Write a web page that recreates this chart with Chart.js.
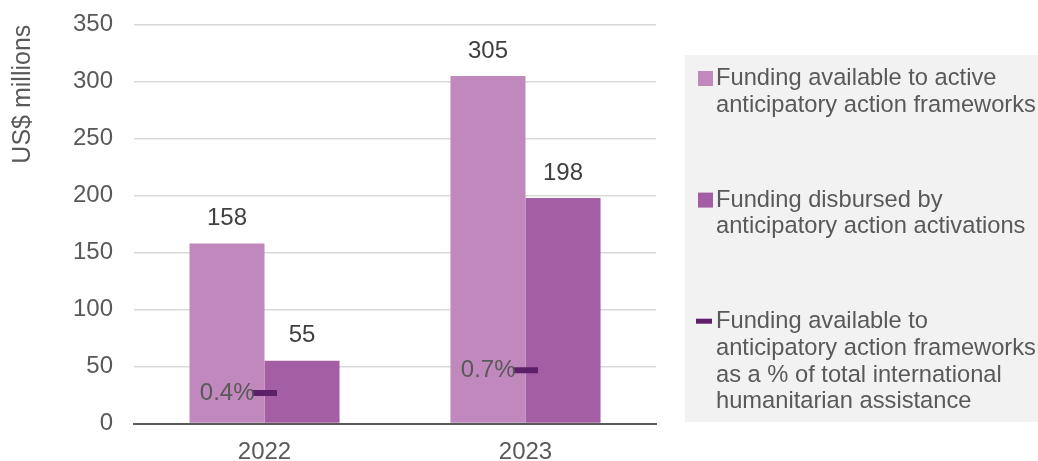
<!DOCTYPE html>
<html>
<head>
<meta charset="utf-8">
<script src="https://cdn.jsdelivr.net/npm/chart.js@4"></script>
<style>
  html, body { margin: 0; padding: 0; background: #ffffff; }
  #wrap { position: relative; width: 1038px; height: 461px; }
</style>
</head>
<body>
<div id="wrap"><canvas id="chart"></canvas></div>
<script>
// Categories and series
const years = ['2022', '2023'];
const fundingAvailable = [158, 305];   // US$ millions
const fundingDisbursed = [55, 198];    // US$ millions
const sharePercent = [0.4, 0.7];       // % of total international humanitarian assistance

// Legend text, one entry per series, split into lines
const legendLines = [
  ['Funding available to active', 'anticipatory action frameworks'],
  ['Funding disbursed by', 'anticipatory action activations'],
  ['Funding available to', 'anticipatory action frameworks', 'as a % of total international', 'humanitarian assistance']
];

const FONT = '"Liberation Sans", Arial, sans-serif';
const GREY = '#595959';
const colAvailable = '#c088bc';
const colDisbursed = '#a45ea3';
const colShare = '#5c2068';

// Value labels above bars and beside the share markers
const labelPlugin = {
  id: 'valueLabels',
  afterDatasetsDraw(chart) {
    const ctx = chart.ctx;
    ctx.save();
    ctx.font = '24px ' + FONT;
    chart.data.datasets.forEach((ds, di) => {
      const meta = chart.getDatasetMeta(di);
      meta.data.forEach((el, i) => {
        const v = ds.data[i];
        if (ds.type === 'line') {
          ctx.fillStyle = GREY;
          ctx.textAlign = 'right';
          ctx.textBaseline = 'middle';
          ctx.fillText(v.toFixed(1) + '%', el.x - 10, el.y);
        } else {
          ctx.fillStyle = '#404040';
          ctx.textAlign = 'center';
          ctx.textBaseline = 'middle';
          ctx.fillText(String(v), el.x, el.y - 25);
        }
      });
    });
    ctx.restore();
  }
};

// Legend panel on the right
const legendPlugin = {
  id: 'sideLegend',
  afterDraw(chart) {
    const ctx = chart.ctx;
    ctx.save();
    ctx.fillStyle = '#f2f2f2';
    ctx.fillRect(685, 55, 353, 367);
    ctx.font = '23.7px ' + FONT;
    ctx.textAlign = 'left';
    ctx.textBaseline = 'alphabetic';
    const lineH = 26.7;
    chart.data.datasets.forEach((ds, di) => {
      const base = 85 + di * 121.6;
      const lines = legendLines[di];
      if (ds.type === 'line') {
        ctx.strokeStyle = ds.borderColor;
        ctx.lineWidth = 5;
        ctx.beginPath();
        ctx.moveTo(696, base - 7);
        ctx.lineTo(712, base - 7);
        ctx.stroke();
      } else {
        ctx.fillStyle = ds.backgroundColor;
        ctx.fillRect(698, base - 14, 15, 15);
      }
      ctx.fillStyle = GREY;
      lines.forEach((t, li) => ctx.fillText(t, 716, base + li * lineH));
    });
    ctx.restore();
  }
};

new Chart(document.getElementById('chart'), {
  type: 'bar',
  data: {
    labels: years,
    datasets: [
      {
        label: legendLines[0].join(' '),
        data: fundingAvailable,
        backgroundColor: colAvailable,
        categoryPercentage: 0.575,
        barPercentage: 1,
        yAxisID: 'y',
        order: 2
      },
      {
        label: legendLines[1].join(' '),
        data: fundingDisbursed,
        backgroundColor: colDisbursed,
        categoryPercentage: 0.575,
        barPercentage: 1,
        yAxisID: 'y',
        order: 2
      },
      {
        type: 'line',
        label: legendLines[2].join(' '),
        data: sharePercent,
        yAxisID: 'y1',
        showLine: false,
        borderColor: colShare,
        backgroundColor: colShare,
        pointStyle: 'line',
        pointRadius: 12.5,
        pointHoverRadius: 12.5,
        pointBorderWidth: 6,
        order: 1
      }
    ]
  },
  options: {
    responsive: true,
    maintainAspectRatio: false,
    animation: false,
    events: [],
    layout: { autoPadding: false, padding: { top: 24.7, right: 382, left: 0, bottom: 0 } },
    plugins: {
      legend: { display: false },
      tooltip: { enabled: false }
    },
    scales: {
      x: {
        grid: { display: false },
        border: { display: true, color: GREY, width: 2 },
        ticks: { color: GREY, font: { family: FONT, size: 24 }, padding: 6 },
        afterFit(scale) { scale.height = 37.5; }
      },
      y: {
        min: 0,
        max: 350,
        ticks: { stepSize: 50, color: GREY, font: { family: FONT, size: 24 }, padding: 21 },
        grid: { color: '#d9d9d9', lineWidth: 1.5, drawTicks: false },
        border: { display: false },
        title: {
          display: true,
          text: 'US$ millions',
          align: 'end',
          color: GREY,
          font: { family: FONT, size: 25 },
          padding: { top: 8.2, bottom: 0 }
        },
        afterFit(scale) {
          scale.width = 134;
          scale.paddingTop = 0;
          scale.paddingBottom = 0;
        }
      },
      y1: {
        display: false,
        min: 0,
        max: 5.25
      }
    }
  },
  plugins: [labelPlugin, legendPlugin]
});
</script>
</body>
</html>
